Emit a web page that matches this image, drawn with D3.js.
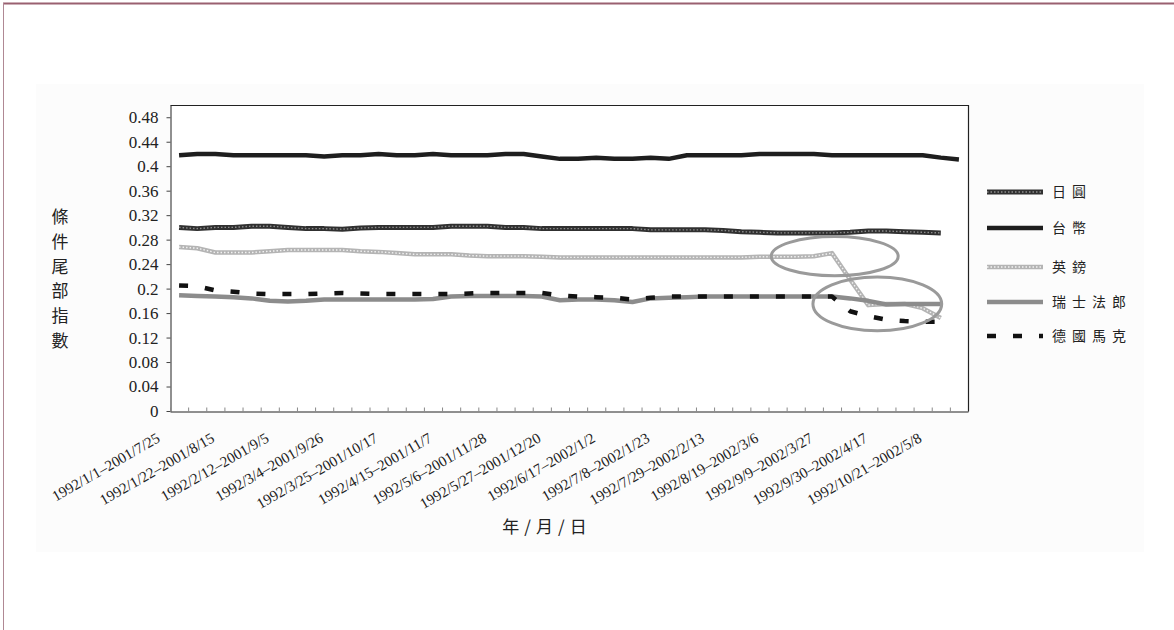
<!DOCTYPE html>
<html><head><meta charset="utf-8">
<script src="https://cdn.jsdelivr.net/npm/d3@7"></script>
<style>
html,body{margin:0;padding:0;background:#fff;}
svg{display:block;}
</style></head>
<body>
<script>
// ---- data ----
const seriesNames = ["日圓", "台幣", "英鎊", "瑞士法郎", "德國馬克"];
const tickLabels = [
  "1992/1/1–2001/7/25", "1992/1/22–2001/8/15", "1992/2/12–2001/9/5", "1992/3/4–2001/9/26",
  "1992/3/25–2001/10/17", "1992/4/15–2001/11/7", "1992/5/6–2001/11/28", "1992/5/27–2001/12/20",
  "1992/6/17–2002/1/2", "1992/7/8–2002/1/23", "1992/7/29–2002/2/13", "1992/8/19–2002/3/6",
  "1992/9/9–2002/3/27", "1992/9/30–2002/4/17", "1992/10/21–2002/5/8"
];
const categoryCount = 44;
const yTicks = [0, 0.04, 0.08, 0.12, 0.16, 0.2, 0.24, 0.28, 0.32, 0.36, 0.4, 0.44, 0.48];

const jpy = [0.300,0.298,0.300,0.300,0.302,0.302,0.300,0.298,0.298,0.297,0.299,0.300,0.300,0.300,0.300,
  0.302,0.302,0.302,0.300,0.300,0.298,0.298,0.298,0.298,0.298,0.298,0.296,0.296,0.296,0.296,0.295,
  0.293,0.292,0.291,0.291,0.291,0.291,0.292,0.294,0.294,0.293,0.292,0.291];
const twd = [0.418,0.420,0.420,0.418,0.418,0.418,0.418,0.418,0.416,0.418,0.418,0.420,0.418,0.418,0.420,
  0.418,0.418,0.418,0.420,0.420,0.416,0.412,0.412,0.414,0.412,0.412,0.414,0.412,0.418,0.418,0.418,
  0.418,0.420,0.420,0.420,0.420,0.418,0.418,0.418,0.418,0.418,0.418,0.414,0.411];
const gbp = [0.268,0.266,0.259,0.259,0.259,0.261,0.263,0.263,0.263,0.263,0.261,0.260,0.258,0.256,0.256,
  0.256,0.254,0.253,0.253,0.253,0.252,0.251,0.251,0.251,0.251,0.251,0.251,0.251,0.251,0.251,0.251,
  0.251,0.252,0.252,0.252,0.253,0.258,0.215,0.173,0.175,0.175,0.168,0.152];
const chf = [0.189,0.188,0.187,0.186,0.184,0.180,0.179,0.180,0.182,0.182,0.182,0.182,0.182,0.182,0.183,
  0.187,0.188,0.188,0.188,0.188,0.187,0.181,0.182,0.182,0.181,0.178,0.184,0.185,0.186,0.187,0.187,
  0.187,0.187,0.187,0.187,0.187,0.187,0.184,0.180,0.174,0.175,0.175,0.175];
const dem = [0.205,0.204,0.197,0.195,0.192,0.191,0.191,0.191,0.192,0.193,0.192,0.191,0.191,0.191,0.191,
  0.191,0.192,0.193,0.193,0.193,0.193,0.189,0.187,0.186,0.185,0.182,0.185,0.187,0.187,0.187,0.187,
  0.187,0.187,0.187,0.187,0.187,0.187,0.163,0.155,0.149,0.147,0.146,0.146];
// highlight ellipses: centre (category index, value), radii (categories, value units)
const ellipses = [
  {cx: 36.15, cy: 0.253, rx: 3.5, ry: 0.032},
  {cx: 38.5, cy: 0.175, rx: 3.55, ry: 0.044}
];

// ---- drawing ----
const W = 1174, H = 630;
const svg = d3.select("body").append("svg").attr("width", W).attr("height", H);

// page frame & faint chart background
svg.append("rect").attr("x", 36).attr("y", 84).attr("width", 1108).attr("height", 468).attr("fill", "#fcfcfc");
svg.append("line").attr("x1", 3).attr("x2", W).attr("y1", 3.5).attr("y2", 3.5).attr("stroke", "#9a6070").attr("stroke-width", 2);
svg.append("line").attr("x1", 3.5).attr("x2", 3.5).attr("y1", 3).attr("y2", H).attr("stroke", "#b08894").attr("stroke-width", 1);

const L = 170, R = 968, T = 105, B = 411;
const x = d3.scaleLinear().domain([-0.5, categoryCount - 0.5]).range([L, R]);
const y = d3.scaleLinear().domain([0, 0.5]).range([B, T]);

svg.append("rect").attr("x", L + 0.5).attr("y", T + 0.5).attr("width", R - L).attr("height", B - T)
  .attr("fill", "#fff");

// y axis
const yAxis = svg.append("g").attr("transform", `translate(${L + 0.5},0)`)
  .call(d3.axisLeft(y).tickValues(yTicks).tickSize(4).tickSizeOuter(0).tickPadding(8).tickFormat(d => String(+d.toFixed(2))));
yAxis.select(".domain").attr("stroke", "#222");
yAxis.selectAll(".tick line").attr("stroke", "#444");
yAxis.selectAll("text").attr("font-family", "Liberation Serif, serif").attr("font-size", 17).attr("fill", "#222");

// x axis (inward ticks at category boundaries)
const xAxis = svg.append("g").attr("transform", `translate(0,${B + 0.5})`)
  .call(d3.axisBottom(x).tickValues(d3.range(-0.5, categoryCount, 1)).tickSize(-4).tickSizeOuter(0).tickFormat(""));
xAxis.select(".domain").attr("stroke", "#222");
xAxis.selectAll(".tick line").attr("stroke", "#888");

// plot frame top and right
svg.append("path").attr("d", `M${L + 0.5},${T + 0.5}H${R + 0.5}V${B + 0.5}`)
  .attr("fill", "none").attr("stroke", "#222").attr("stroke-width", 1.2);

// rotated category labels every 3 categories
svg.append("g").selectAll("text").data(tickLabels).join("text")
  .attr("transform", (d, i) => `translate(${x(i * 3) - 18},${B + 30}) rotate(-30)`)
  .attr("text-anchor", "end")
  .attr("font-family", "Liberation Serif, serif").attr("font-size", 15).attr("fill", "#222")
  .text(d => d);

// axis titles
const yTitle = "條件尾部指數".split("");
svg.append("g").selectAll("text").data(yTitle).join("text")
  .attr("x", 60).attr("y", (d, i) => 223 + i * 24.8)
  .attr("text-anchor", "middle")
  .attr("font-family", "Noto Sans CJK TC, sans-serif").attr("font-size", 17).attr("fill", "#222")
  .text(d => d);
svg.append("text").attr("x", 547).attr("y", 533).attr("text-anchor", "middle")
  .attr("font-family", "Noto Sans CJK TC, sans-serif").attr("font-size", 17).attr("fill", "#222")
  .attr("letter-spacing", 5).text("年/月/日");

// series styles
const styles = [
  {data: jpy, layers: [{stroke: "#303030", w: 5}, {stroke: "#8c8c8c", w: 1.4, dash: "1.5,2"}]},
  {data: twd, layers: [{stroke: "#1e1e1e", w: 4.5}]},
  {data: gbp, layers: [{stroke: "#b4b4b4", w: 4.5}, {stroke: "#f2f2f2", w: 1.4, dash: "1.5,2"}]},
  {data: chf, layers: [{stroke: "#8c8c8c", w: 4.5}]},
  {data: dem, layers: [{stroke: "#111", w: 4.5, dash: "9,17"}]}
];
const line = d3.line().x((d, i) => x(i)).y(d => y(d));
const plot = svg.append("g");
styles.forEach(s => {
  s.layers.forEach(l => {
    plot.append("path").attr("d", line(s.data)).attr("fill", "none")
      .attr("stroke", l.stroke).attr("stroke-width", l.w)
      .attr("stroke-dasharray", l.dash || null).attr("stroke-linejoin", "round");
  });
});

// highlight ellipses
svg.append("g").selectAll("ellipse").data(ellipses).join("ellipse")
  .attr("cx", d => x(d.cx)).attr("cy", d => y(d.cy))
  .attr("rx", d => x(d.rx) - x(0)).attr("ry", d => y(0) - y(d.ry))
  .attr("fill", "none").attr("stroke", "#9a9a9a").attr("stroke-width", 3);

// legend
const legendY = [192, 228, 267, 302, 336];
const lg = svg.append("g");
seriesNames.forEach((name, i) => {
  styles[i].layers.forEach(l => {
    lg.append("line").attr("x1", 987).attr("x2", 1043).attr("y1", legendY[i]).attr("y2", legendY[i])
      .attr("stroke", l.stroke).attr("stroke-width", l.w).attr("stroke-dasharray", l.dash || null);
  });
  lg.append("text").attr("x", 1052).attr("y", legendY[i] + 5)
    .attr("font-family", "Noto Sans CJK TC, sans-serif").attr("font-size", 14).attr("fill", "#222")
    .attr("letter-spacing", 6).text(name);
});
</script>
</body></html>
